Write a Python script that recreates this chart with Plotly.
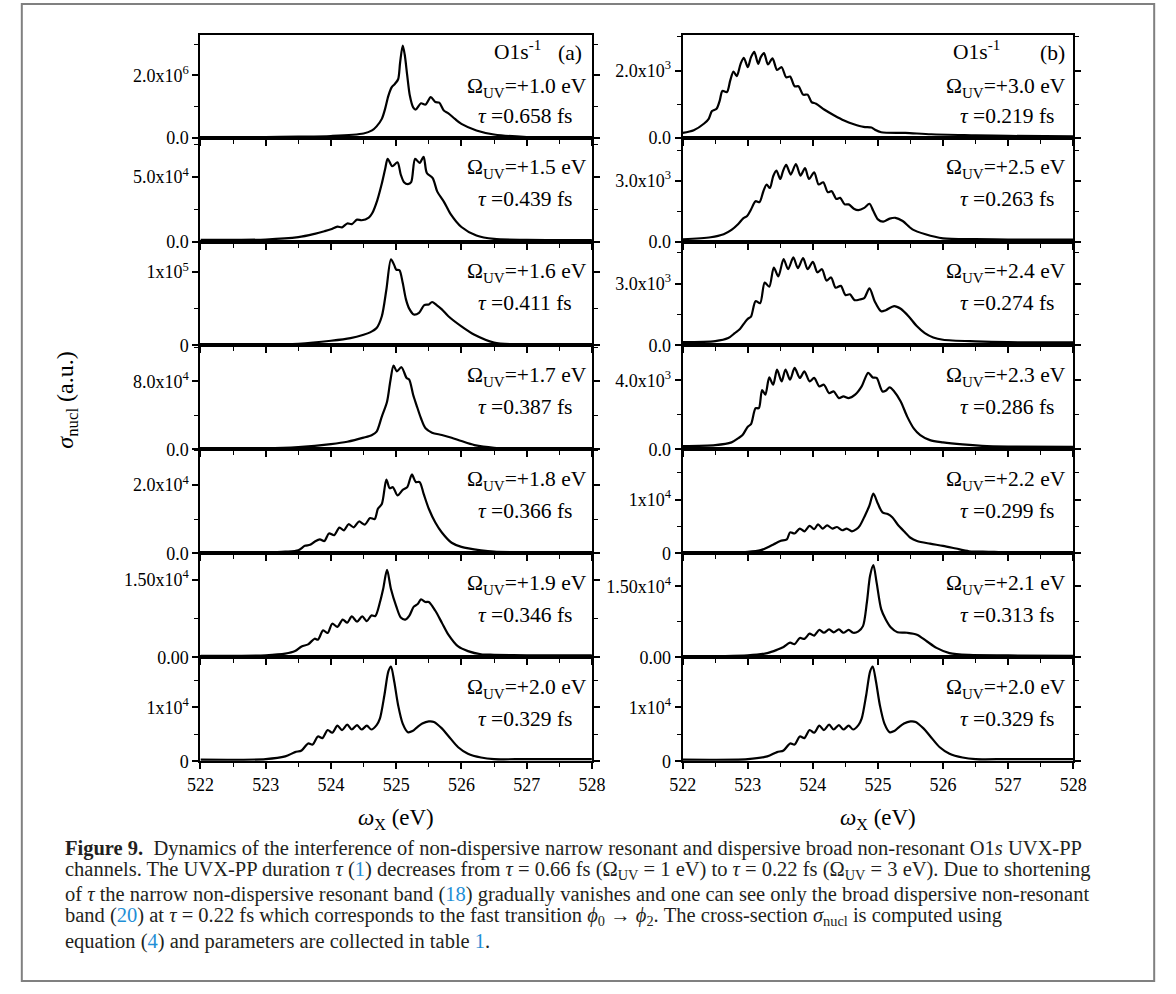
import plotly.graph_objects as go

# ------------------------------------------------------------------
# Data: photon energy omega_X (eV) and sigma_nucl (a.u.)
# Column (a): Omega_UV = 1.0 ... 2.0 eV ; column (b): Omega_UV = 3.0 ... 2.0 eV
# ------------------------------------------------------------------
x_a1 = [522.0, 523.0, 523.5, 524.0, 524.5, 524.63, 524.7, 524.78, 524.83, 524.88, 524.93, 524.98,
        525.03, 525.06, 525.1, 525.13, 525.17, 525.21, 525.26, 525.3, 525.38, 525.45, 525.53, 525.6,
        525.66, 525.73, 525.8, 525.9, 526.0, 526.23, 526.5, 527.0, 528.0]
y_a1 = [0.01e6, 0.02e6, 0.03e6, 0.05e6, 0.13e6, 0.23e6, 0.36e6, 0.6e6, 0.92e6, 1.34e6, 1.61e6, 1.72e6,
        1.87e6, 2.4e6, 2.95e6, 2.67e6, 1.98e6, 1.34e6, 0.97e6, 0.9e6, 1.1e6, 1.06e6, 1.3e6, 1.14e6,
        1.12e6, 0.87e6, 0.78e6, 0.6e6, 0.44e6, 0.23e6, 0.1e6, 0.02e6, 0.01e6]

x_a2 = [522.0, 523.0, 523.5, 523.75, 523.9, 524.0, 524.1, 524.17, 524.25, 524.32, 524.4, 524.47,
        524.58, 524.63, 524.71, 524.78, 524.83, 524.87, 524.94, 525.02, 525.07, 525.12, 525.18, 525.23,
        525.29, 525.36, 525.42, 525.47, 525.56, 525.63, 525.73, 525.83, 526.0, 526.23, 526.5, 527.0, 528.0]
y_a2 = [0.13e4, 0.16e4, 0.34e4, 0.6e4, 0.8e4, 0.95e4, 1.15e4, 1.1e4, 1.4e4, 1.35e4, 1.7e4, 1.65e4,
        1.86e4, 2.17e4, 3.2e4, 4.5e4, 5.6e4, 6.41e4, 5.84e4, 6.15e4, 5.2e4, 4.6e4, 4.45e4, 4.6e4,
        6.41e4, 6.1e4, 6.57e4, 5.31e4, 4.92e4, 3.87e4, 3.1e4, 2.17e4, 1.13e4, 0.47e4, 0.2e4, 0.13e4, 0.12e4]

x_a3 = [522.0, 523.0, 523.5, 524.0, 524.3, 524.5, 524.6, 524.7, 524.78, 524.85, 524.92, 524.97,
        525.0, 525.05, 525.1, 525.15, 525.2, 525.27, 525.35, 525.43, 525.5, 525.55, 525.62, 525.7,
        525.8, 526.0, 526.2, 526.5, 527.0, 528.0]
y_a3 = [0.1e4, 0.1e4, 0.23e4, 0.64e4, 1.0e4, 1.46e4, 1.78e4, 2.37e4, 3.97e4, 7.6e4, 11.7e4, 10.9e4,
        10.3e4, 10.2e4, 8.5e4, 6.26e4, 5.0e4, 4.2e4, 4.43e4, 5.48e4, 5.57e4, 5.9e4, 5.48e4, 4.9e4,
        3.97e4, 2.6e4, 1.46e4, 0.41e4, 0.1e4, 0.1e4]

x_a4 = [522.0, 523.0, 523.5, 524.0, 524.25, 524.5, 524.63, 524.7, 524.78, 524.86, 524.91, 524.96,
        525.01, 525.08, 525.16, 525.2, 525.26, 525.31, 525.38, 525.45, 525.55, 525.7, 525.85, 526.0,
        526.2, 526.5, 527.0, 528.0]
y_a4 = [0.1e4, 0.12e4, 0.28e4, 0.63e4, 0.9e4, 1.38e4, 1.7e4, 2.09e4, 3.86e4, 5.6e4, 8.0e4, 9.84e4,
        9.17e4, 9.65e4, 8.39e4, 8.19e4, 6.42e4, 5.24e4, 3.66e4, 2.48e4, 1.97e4, 1.7e4, 1.38e4, 0.98e4,
        0.51e4, 0.2e4, 0.1e4, 0.1e4]

x_a5 = [522.0, 523.0, 523.3, 523.5, 523.6, 523.68, 523.75, 523.83, 523.9, 523.97, 524.05, 524.13,
        524.2, 524.27, 524.35, 524.43, 524.52, 524.6, 524.67, 524.72, 524.78, 524.85, 524.9, 524.95,
        525.02, 525.1, 525.17, 525.24, 525.3, 525.36, 525.42, 525.5, 525.6, 525.7, 525.85, 526.0,
        526.3, 526.5, 527.0, 528.0]
y_a5 = [0.03e4, 0.03e4, 0.05e4, 0.09e4, 0.22e4, 0.25e4, 0.34e4, 0.41e4, 0.36e4, 0.58e4, 0.53e4, 0.75e4,
        0.67e4, 0.85e4, 0.76e4, 0.93e4, 0.84e4, 1.03e4, 1.0e4, 1.3e4, 1.44e4, 2.15e4, 1.9e4, 1.93e4,
        1.69e4, 1.85e4, 1.93e4, 2.3e4, 2.08e4, 2.08e4, 1.74e4, 1.3e4, 0.9e4, 0.61e4, 0.31e4, 0.19e4,
        0.09e4, 0.05e4, 0.03e4, 0.03e4]

x_a6 = [522.0, 523.0, 523.3, 523.45, 523.55, 523.65, 523.75, 523.8, 523.88, 523.95, 524.02, 524.1,
        524.18, 524.25, 524.32, 524.4, 524.48, 524.55, 524.62, 524.68, 524.75, 524.8, 524.86, 524.92,
        525.0, 525.07, 525.14, 525.2, 525.27, 525.33, 525.38, 525.45, 525.5, 525.6, 525.7, 525.8,
        525.95, 526.1, 526.3, 526.5, 527.0, 528.0]
y_a6 = [0.03e4, 0.04e4, 0.07e4, 0.12e4, 0.21e4, 0.25e4, 0.36e4, 0.34e4, 0.52e4, 0.47e4, 0.65e4, 0.59e4,
        0.73e4, 0.67e4, 0.79e4, 0.69e4, 0.79e4, 0.7e4, 0.81e4, 0.8e4, 1.06e4, 1.32e4, 1.69e4, 1.32e4,
        0.99e4, 0.77e4, 0.73e4, 0.8e4, 0.98e4, 1.03e4, 1.12e4, 1.07e4, 1.07e4, 0.9e4, 0.67e4, 0.44e4,
        0.21e4, 0.12e4, 0.06e4, 0.05e4, 0.04e4, 0.04e4]

x_a7 = [522.0, 523.0, 523.3, 523.45, 523.55, 523.65, 523.72, 523.8, 523.87, 523.95, 524.02, 524.1,
        524.17, 524.25, 524.32, 524.4, 524.47, 524.55, 524.62, 524.7, 524.75, 524.82, 524.88, 524.92,
        524.97, 525.03, 525.1, 525.18, 525.25, 525.32, 525.4, 525.5, 525.58, 525.7, 525.8, 525.95,
        526.1, 526.3, 526.5, 527.0, 528.0]
y_a7 = [0.03e4, 0.04e4, 0.09e4, 0.17e4, 0.2e4, 0.33e4, 0.31e4, 0.46e4, 0.43e4, 0.58e4, 0.53e4, 0.66e4,
        0.58e4, 0.68e4, 0.59e4, 0.67e4, 0.59e4, 0.66e4, 0.59e4, 0.67e4, 0.79e4, 1.23e4, 1.67e4, 1.76e4,
        1.48e4, 1.04e4, 0.7e4, 0.54e4, 0.56e4, 0.63e4, 0.7e4, 0.74e4, 0.73e4, 0.61e4, 0.47e4, 0.26e4,
        0.14e4, 0.07e4, 0.04e4, 0.04e4, 0.04e4]

x_b1 = [522.0, 522.17, 522.33, 522.4, 522.45, 522.52, 522.57, 522.61, 522.68, 522.73, 522.78, 522.83,
        522.89, 522.94, 523.0, 523.05, 523.1, 523.16, 523.2, 523.25, 523.31, 523.38, 523.45, 523.52,
        523.59, 523.65, 523.72, 523.78, 523.85, 523.92, 523.98, 524.05, 524.18, 524.33, 524.48, 524.63,
        524.78, 524.9, 524.95, 525.05, 525.42, 525.82, 526.5, 527.0, 528.0]
y_b1 = [0.14e3, 0.22e3, 0.42e3, 0.56e3, 0.79e3, 0.86e3, 1.11e3, 1.39e3, 1.36e3, 1.7e3, 1.97e3, 1.83e3,
        2.2e3, 2.38e3, 2.1e3, 2.4e3, 2.56e3, 2.2e3, 2.4e3, 2.52e3, 2.18e3, 2.36e3, 2.02e3, 2.1e3,
        1.8e3, 1.82e3, 1.53e3, 1.53e3, 1.28e3, 1.28e3, 1.06e3, 1.01e3, 0.83e3, 0.66e3, 0.51e3, 0.4e3,
        0.32e3, 0.3e3, 0.24e3, 0.16e3, 0.14e3, 0.1e3, 0.07e3, 0.05e3, 0.04e3]

x_b2 = [522.0, 522.43, 522.63, 522.75, 522.85, 522.93, 522.99, 523.05, 523.12, 523.18, 523.24, 523.29,
        523.34, 523.39, 523.44, 523.5, 523.54, 523.59, 523.66, 523.74, 523.81, 523.88, 523.94, 524.02,
        524.09, 524.16, 524.23, 524.29, 524.36, 524.42, 524.49, 524.55, 524.63, 524.7, 524.79, 524.87,
        524.93, 525.0, 525.08, 525.18, 525.27, 525.38, 525.53, 525.73, 526.0, 526.5, 527.0, 528.0]
y_b2 = [0.11e3, 0.21e3, 0.36e3, 0.57e3, 0.85e3, 1.14e3, 1.26e3, 1.58e3, 1.99e3, 1.94e3, 2.48e3, 2.81e3,
        2.64e3, 3.21e3, 3.49e3, 3.08e3, 3.46e3, 3.78e3, 3.3e3, 3.82e3, 3.25e3, 3.62e3, 3.08e3, 3.41e3,
        2.81e3, 2.92e3, 2.43e3, 2.48e3, 2.1e3, 2.15e3, 1.83e3, 1.83e3, 1.62e3, 1.55e3, 1.66e3, 1.86e3,
        1.5e3, 1.09e3, 0.98e3, 1.13e3, 1.17e3, 1.01e3, 0.6e3, 0.36e3, 0.16e3, 0.12e3, 0.1e3, 0.1e3]

x_b3 = [522.0, 522.5, 522.7, 522.8, 522.88, 522.95, 523.0, 523.05, 523.12, 523.19, 523.26, 523.33,
        523.4, 523.47, 523.55, 523.62, 523.7, 523.77, 523.85, 523.92, 524.0, 524.07, 524.14, 524.21,
        524.28, 524.35, 524.43, 524.5, 524.57, 524.64, 524.72, 524.79, 524.87, 524.95, 525.05, 525.12,
        525.25, 525.35, 525.47, 525.6, 525.72, 525.85, 526.0, 526.5, 527.0, 528.0]
y_b3 = [0.16e3, 0.21e3, 0.36e3, 0.6e3, 0.8e3, 1.1e3, 1.29e3, 1.4e3, 2.15e3, 2.05e3, 3.05e3, 2.85e3,
        3.78e3, 3.35e3, 4.19e3, 3.7e3, 4.27e3, 3.75e3, 4.24e3, 3.7e3, 4.06e3, 3.55e3, 3.7e3, 3.15e3,
        3.3e3, 2.8e3, 2.89e3, 2.45e3, 2.48e3, 2.2e3, 2.23e3, 2.3e3, 2.77e3, 2.15e3, 1.66e3, 1.71e3,
        1.91e3, 1.78e3, 1.42e3, 0.93e3, 0.6e3, 0.39e3, 0.28e3, 0.2e3, 0.16e3, 0.15e3]

x_b4 = [522.0, 522.5, 522.75, 522.85, 522.92, 523.0, 523.05, 523.12, 523.17, 523.22, 523.27, 523.33,
        523.39, 523.45, 523.52, 523.58, 523.65, 523.72, 523.8, 523.87, 523.95, 524.02, 524.1, 524.17,
        524.25, 524.32, 524.4, 524.47, 524.55, 524.65, 524.75, 524.85, 524.92, 524.98, 525.07, 525.12,
        525.18, 525.25, 525.35, 525.45, 525.55, 525.65, 525.8, 526.0, 526.3, 526.6, 527.0, 528.0]
y_b4 = [0.19e3, 0.25e3, 0.41e3, 0.64e3, 0.83e3, 1.32e3, 1.46e3, 2.39e3, 2.39e3, 3.44e3, 3.17e3, 4.17e3,
        3.75e3, 4.62e3, 3.94e3, 4.62e3, 4.04e3, 4.72e3, 4.14e3, 4.52e3, 3.94e3, 4.14e3, 3.65e3, 3.75e3,
        3.26e3, 3.36e3, 2.97e3, 3.07e3, 2.97e3, 3.17e3, 3.65e3, 4.43e3, 4.17e3, 4.14e3, 3.36e3, 3.4e3,
        3.59e3, 3.36e3, 2.78e3, 1.9e3, 1.22e3, 0.83e3, 0.54e3, 0.41e3, 0.29e3, 0.21e3, 0.17e3, 0.15e3]

x_b5 = [522.0, 523.0, 523.2, 523.3, 523.4, 523.5, 523.6, 523.65, 523.72, 523.8, 523.87, 523.95,
        524.02, 524.08, 524.15, 524.22, 524.3, 524.37, 524.45, 524.52, 524.6, 524.67, 524.72, 524.8,
        524.87, 524.93, 525.0, 525.07, 525.15, 525.22, 525.3, 525.4, 525.5, 525.6, 525.8, 526.0,
        526.2, 526.4, 526.7, 527.0, 528.0]
y_b5 = [0.02e4, 0.03e4, 0.06e4, 0.11e4, 0.17e4, 0.23e4, 0.26e4, 0.39e4, 0.37e4, 0.46e4, 0.41e4, 0.51e4,
        0.45e4, 0.54e4, 0.46e4, 0.52e4, 0.46e4, 0.49e4, 0.43e4, 0.46e4, 0.41e4, 0.45e4, 0.51e4, 0.7e4,
        0.89e4, 1.11e4, 0.92e4, 0.76e4, 0.73e4, 0.67e4, 0.54e4, 0.41e4, 0.29e4, 0.23e4, 0.18e4, 0.14e4,
        0.09e4, 0.04e4, 0.03e4, 0.02e4, 0.02e4]

x_b6 = [522.0, 523.0, 523.3, 523.45, 523.55, 523.65, 523.72, 523.8, 523.87, 523.95, 524.02, 524.1,
        524.17, 524.25, 524.32, 524.4, 524.47, 524.55, 524.62, 524.7, 524.77, 524.83, 524.88, 524.93,
        524.98, 525.05, 525.12, 525.2, 525.3, 525.45, 525.6, 525.75, 525.9, 526.1, 526.4, 527.0, 528.0]
y_b6 = [0.02e4, 0.04e4, 0.09e4, 0.16e4, 0.22e4, 0.31e4, 0.28e4, 0.41e4, 0.39e4, 0.5e4, 0.46e4, 0.58e4,
        0.52e4, 0.59e4, 0.53e4, 0.59e4, 0.52e4, 0.58e4, 0.52e4, 0.55e4, 0.66e4, 1.16e4, 1.73e4, 1.95e4,
        1.58e4, 1.02e4, 0.8e4, 0.63e4, 0.53e4, 0.52e4, 0.48e4, 0.34e4, 0.2e4, 0.09e4, 0.05e4, 0.04e4, 0.03e4]

# last right panel is the same spectrum as the last left panel (Omega_UV = 2.0 eV)
x_b7 = x_a7
y_b7 = y_a7

omega_a = ["+1.0", "+1.5", "+1.6", "+1.7", "+1.8", "+1.9", "+2.0"]
tau_a = ["0.658", "0.439", "0.411", "0.387", "0.366", "0.346", "0.329"]
omega_b = ["+3.0", "+2.5", "+2.4", "+2.3", "+2.2", "+2.1", "+2.0"]
tau_b = ["0.219", "0.263", "0.274", "0.286", "0.299", "0.313", "0.329"]

ymax_a = [3.30e6, 8.06e4, 1.41e5, 1.22e5, 3.03e4, 2.01e4, 1.93e4]
ymax_b = [3.07e3, 5.12e3, 5.04e3, 6.02e3, 1.93e4, 2.2e4, 1.93e4]

ytick_a = [2e6, 5e4, 1e5, 8e4, 2e4, 1.5e4, 1e4]
ytick_b = [2e3, 3e3, 3e3, 4e3, 1e4, 1.5e4, 1e4]
ylab0_a = ["0.0", "0.0", "0", "0.0", "0.0", "0.00", "0"]
ylab0_b = ["0.0", "0.0", "0.0", "0.0", "0", "0.00", "0"]
ylab1_a = ["2.0x10<sup>6</sup>", "5.0x10<sup>4</sup>", "1x10<sup>5</sup>", "8.0x10<sup>4</sup>",
           "2.0x10<sup>4</sup>", "1.50x10<sup>4</sup>", "1x10<sup>4</sup>"]
ylab1_b = ["2.0x10<sup>3</sup>", "3.0x10<sup>3</sup>", "3.0x10<sup>3</sup>", "4.0x10<sup>3</sup>",
           "1x10<sup>4</sup>", "1.50x10<sup>4</sup>", "1x10<sup>4</sup>"]

x_ticks = [522, 523, 524, 525, 526, 527, 528]
x_minor = [522.5, 523.5, 524.5, 525.5, 526.5, 527.5]

# ------------------------------------------------------------------
W, H = 1176, 994
FONT = "Liberation Serif, Times New Roman, serif"


def px(x):
    return x / W


def py(y):
    return 1 - y / H


row_tops = [35, 139, 244, 349, 454, 559, 664]
row_bottoms = [139, 244, 349, 454, 559, 664, 769]
col_x = [(191, 592), (685, 1085)]

xs = [[x_a1, x_a2, x_a3, x_a4, x_a5, x_a6, x_a7], [x_b1, x_b2, x_b3, x_b4, x_b5, x_b6, x_b7]]
ys = [[y_a1, y_a2, y_a3, y_a4, y_a5, y_a6, y_a7], [y_b1, y_b2, y_b3, y_b4, y_b5, y_b6, y_b7]]
omegas = [omega_a, omega_b]
taus = [tau_a, tau_b]
ymaxs = [ymax_a, ymax_b]
yticks = [ytick_a, ytick_b]
ylab0 = [ylab0_a, ylab0_b]
ylab1 = [ylab1_a, ylab1_b]

for xs_c, ys_c in zip(xs, ys):
    for xx, yy in zip(xs_c, ys_c):
        assert len(xx) == len(yy), (len(xx), len(yy))

fig = go.Figure()
layout = {}
annotations = []
tickfont = dict(family=FONT, size=18, color="black")
txtfont = dict(family=FONT, size=21.5, color="black")

for c in range(2):
    for r in range(7):
        i = c * 7 + r + 1
        xa = "x" if i == 1 else f"x{i}"
        ya = "y" if i == 1 else f"y{i}"
        fig.add_trace(go.Scatter(
            x=xs[c][r], y=ys[c][r], mode="lines",
            line=dict(color="black", width=2.2, shape="spline", smoothing=0.8),
            xaxis=xa, yaxis=ya, showlegend=False, hoverinfo="skip"))
        x0, x1 = col_x[c]
        t, b = row_tops[r], row_bottoms[r]
        tv = yticks[c][r]
        layout["xaxis" if i == 1 else f"xaxis{i}"] = dict(
            domain=[px(x0), px(x1)], anchor=ya, range=[522, 528],
            showline=True, linecolor="black", linewidth=2, mirror=True,
            ticks="outside", ticklen=6, tickwidth=1.5, tickcolor="black",
            tickvals=x_ticks, ticktext=[str(v) for v in x_ticks],
            showticklabels=(r == 6), tickfont=tickfont,
            minor=dict(tickvals=x_minor, ticks="outside", ticklen=4, tickwidth=1.2, tickcolor="black"),
            showgrid=False, zeroline=False, fixedrange=True)
        layout["yaxis" if i == 1 else f"yaxis{i}"] = dict(
            domain=[py(b), py(t)], anchor=xa, range=[0, ymaxs[c][r]],
            showline=True, linecolor="black", linewidth=2, mirror="ticks",
            ticks="outside", ticklen=6, tickwidth=1.5, tickcolor="black",
            tickvals=[0, tv], ticktext=[ylab0[c][r], ylab1[c][r]], tickfont=tickfont,
            minor=dict(dtick=tv / 2, tick0=0, ticks="outside", ticklen=4, tickwidth=1.2, tickcolor="black"),
            showgrid=False, zeroline=False, fixedrange=True)
        # labels inside panels
        rx = 589 if c == 0 else 1080
        lx = 473 if c == 0 else 967
        oy = t + 53 if r == 0 else t + 31
        ty = t + 82 if r == 0 else t + 62
        annotations.append(dict(
            x=px(rx), y=py(oy), xref="paper", yref="paper", xanchor="right", yanchor="middle",
            text=f"\u03A9<sub>UV</sub>={omegas[c][r]} eV", showarrow=False, font=txtfont))
        annotations.append(dict(
            x=px(lx), y=py(ty), xref="paper", yref="paper", xanchor="left", yanchor="middle",
            text=f"<i>\u03C4</i> =0.{taus[c][r][2:]} fs", showarrow=False, font=txtfont))

# O1s^-1 (a)/(b) headers
for c, (lx, rx, tag) in enumerate([(490, 584, "(a)"), (960, 1079, "(b)")]):
    annotations.append(dict(x=px(lx), y=py(51), xref="paper", yref="paper", xanchor="left",
                            yanchor="middle", text="O1s<sup>-1</sup>", showarrow=False, font=txtfont))
    annotations.append(dict(x=px(rx), y=py(54), xref="paper", yref="paper", xanchor="right",
                            yanchor="middle", text=tag, showarrow=False, font=txtfont))

# axis titles
for cx in (391, 885):
    annotations.append(dict(x=px(cx), y=py(827), xref="paper", yref="paper", xanchor="center",
                            yanchor="middle", text="<i>\u03C9</i><sub>X</sub> (eV)", showarrow=False,
                            font=dict(family=FONT, size=23, color="black")))
annotations.append(dict(x=px(54), y=py(404), xref="paper", yref="paper", xanchor="center",
                        yanchor="middle", textangle=-90, text="<i>\u03C3</i><sub>nucl</sub> (a.u.)",
                        showarrow=False, font=dict(family=FONT, size=24, color="black")))

# caption
BL = "#1f8fd6"
SUB = "<span style='font-size:14px'>{}</span>"
cap_lines = [
    "<b>Figure 9.</b>  Dynamics of the interference of non-dispersive narrow resonant and dispersive broad non-resonant O1<i>s</i> UVX-PP",
    f"channels. The UVX-PP duration <i>\u03C4</i> (<span style='color:{BL}'>1</span>) decreases from <i>\u03C4</i> = 0.66 fs (\u03A9<sub>UV</sub> = 1 eV) to <i>\u03C4</i> = 0.22 fs (\u03A9<sub>UV</sub> = 3 eV). Due to shortening",
    f"of <i>\u03C4</i> the narrow non-dispersive resonant band (<span style='color:{BL}'>18</span>) gradually vanishes and one can see only the broad dispersive non-resonant",
    f"band (<span style='color:{BL}'>20</span>) at <i>\u03C4</i> = 0.22 fs which corresponds to the fast transition <i>\u03D5</i><sub>0</sub> \u2192 <i>\u03D5</i><sub>2</sub>. The cross-section <i>\u03C3</i><sub>nucl</sub> is computed using",
    f"equation (<span style='color:{BL}'>4</span>) and parameters are collected in table <span style='color:{BL}'>1</span>.",
]
cap_y = [857, 879, 904, 926, 951]
for txt, yy in zip(cap_lines, cap_y):
    annotations.append(dict(x=px(50), y=py(yy), xref="paper", yref="paper", xanchor="left",
                            yanchor="middle", text=txt, showarrow=False,
                            font=dict(family=FONT, size=20.5, color="#231f20")))

layout.update(dict(
    width=W, height=H, autosize=False,
    margin=dict(l=0, r=0, t=0, b=0, pad=0),
    paper_bgcolor="white", plot_bgcolor="white",
    showlegend=False, annotations=annotations,
    shapes=[dict(type="rect", xref="paper", yref="paper", x0=px(8), x1=px(1168), y0=py(991), y1=py(4),
                 line=dict(color="#808080", width=2), fillcolor="rgba(0,0,0,0)")],
))
fig.update_layout(**layout)
fig.write_html("out.html")
